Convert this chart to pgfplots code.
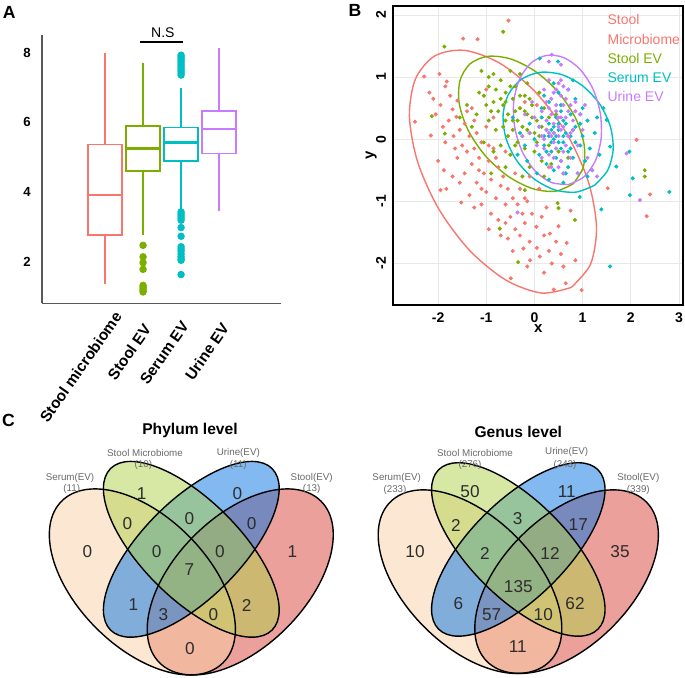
\documentclass[border=0pt]{standalone}
\usepackage{fontspec}
\setmainfont{Liberation Sans}
\usepackage{pgfplots}
\pgfplotsset{compat=1.18}
\usepgfplotslibrary{statistics}

\definecolor{cR}{HTML}{F8766D}
\definecolor{cG}{HTML}{7CAE00}
\definecolor{cC}{HTML}{00BFC4}
\definecolor{cP}{HTML}{C77CFF}
\definecolor{vP}{RGB}{249,209,165}
\definecolor{vG}{RGB}{175,209,75}
\definecolor{vB}{RGB}{5,115,225}
\definecolor{vR}{RGB}{215,65,55}
\definecolor{numc}{RGB}{45,45,45}
\definecolor{labc}{RGB}{105,105,105}

\newcommand{\fs}[1]{\fontsize{#1}{#1}\selectfont}

\begin{document}
\begin{tikzpicture}
\useasboundingbox (0,0) rectangle (342.5pt,-339pt);

% ---------------- A: boxplots
\begin{axis}[
  at={(21pt,-151.65pt)}, anchor=south west, scale only axis,
  width=119.5pt, height=134.15pt,
  xmin=-0.66, xmax=5.63, ymin=0.805, ymax=8.51,
  axis lines=left, axis line style={-, draw=black!65, line width=0.75pt},
  xtick={1,2,3,4}, xticklabels={},
  ytick={2,4,6,8},
  major tick length=0pt,
  /pgf/number format/assume math mode=true,
  y tick label style={font=\bfseries\fs{6.6}, inner sep=0pt, xshift=-5.5pt},
  clip=false,
  boxplot/draw direction=y,
  boxplot/box extend=0.9,
  boxplot/whisker extend=0,
  boxplot/every median/.style={line width=1.3pt},
]
\addplot[cR, line width=0.75pt, boxplot prepared={draw position=1,
  lower whisker=1.37, lower quartile=2.76, median=3.91,
  upper quartile=5.37, upper whisker=8.0}] coordinates {};
\addplot[cG, line width=0.75pt, boxplot prepared={draw position=2,
  lower whisker=2.78, lower quartile=4.60, median=5.25,
  upper quartile=5.90, upper whisker=7.72}] coordinates {};
\addplot[cC, line width=0.75pt, boxplot prepared={draw position=3,
  lower whisker=3.48, lower quartile=4.89, median=5.43,
  upper quartile=5.86, upper whisker=6.98}] coordinates {};
\addplot[cP, line width=0.75pt, boxplot prepared={draw position=4,
  lower whisker=3.46, lower quartile=5.11, median=5.81,
  upper quartile=6.33, upper whisker=8.13}] coordinates {};
% outliers
\addplot[cG, only marks, mark=*, mark size=1.65pt]
  coordinates {(2,2.47) (2,2.14) (2,1.97) (2,1.78) (2,1.32) (2,1.27) (2,1.22) (2,1.17) (2,1.13)};
\addplot[cC, only marks, mark=*, mark size=1.65pt]
  coordinates {(3,7.93) (3,7.88) (3,7.83) (3,7.78) (3,7.72) (3,7.66) (3,7.60) (3,7.54)
  (3,7.48) (3,7.42) (3,7.36) (3,3.43) (3,3.37) (3,3.31) (3,3.25) (3,3.19) (3,2.98)
  (3,2.73) (3,2.43) (3,2.36) (3,2.30) (3,2.22) (3,2.14) (3,2.08) (3,2.04) (3,1.63)};
% significance bar
\addplot[black, line width=0.9pt] coordinates {(1.92,8.30) (3.05,8.30)};
\node[font=\fs{7}] at (axis cs:2.52,8.57) {N.S};
\end{axis}
% category names of A
\begin{scope}[every node/.style={font=\bfseries\fs{7.7}, rotate=55, anchor=north east, inner sep=0pt}]
\node at (56.6pt,-155pt) {Stool microbiome};
\node at (71.3pt,-161.2pt) {Stool EV};
\node at (90.3pt,-159.8pt) {Serum EV};
\node at (110.3pt,-160.8pt) {Urine EV};
\end{scope}

% ---------------- B: scatter
\begin{axis}[
  at={(196.65pt,-152.5pt)}, anchor=south west, scale only axis,
  width=145pt, height=149.5pt,
  xmin=-2.93, xmax=3.09, ymin=-2.67, ymax=2.145,
  axis line style={line width=1pt, black},
  xtick={-2,-1,0,1,2,3}, ytick={-2,-1,0,1,2},
  major tick length=0pt,
  grid=major, major grid style={black!9, line width=0.3pt},
  /pgf/number format/assume math mode=true,
  tick label style={font=\bfseries\fs{7}, inner sep=0pt},
  x tick label style={yshift=-3.5pt},
  y tick label style={xshift=-3.5pt, rotate=90, anchor=south},
  xlabel={x}, ylabel={y},
  label style={font=\bfseries\fs{7.5}},
  xlabel style={at={(axis description cs:0.5,-0.08)}, anchor=center},
  ylabel style={at={(axis description cs:-0.076,0.5)}, anchor=center},
  every axis plot/.append style={only marks, mark=*, mark size=0.8pt},
]
\addplot[cR] coordinates {
(-2.29,1.01) (-2.18,0.75) (-1.97,1.05) (-1.82,0.93) (-1.85,0.85) (-2.15,0.06) (-2.48,0.28)
(-1.95,0.55) (-1.70,0.48) (-1.62,0.36) (-1.78,0.30) (-1.90,0.20) (-1.60,0.62) (-1.75,0.70)
(-2.05,0.40) (-1.55,0.15) (-1.68,0.05) (-1.85,-0.05) (-2.00,-0.35) (-1.88,-0.50) (-1.95,-0.82)
(-1.83,-0.80) (-1.70,-0.60) (-1.60,-0.30) (-1.50,-0.10) (-1.45,0.25) (-1.35,0.05) (-1.40,-0.20)
(-1.30,-0.40) (-1.25,-0.15) (-1.20,0.10) (-1.10,-0.05) (-1.15,-0.30) (-1.05,-0.55) (-1.20,-0.70)
(-1.45,-0.55) (-1.52,-1.02) (-1.35,-0.90) (-1.25,-1.10) (-1.10,-1.05) (-1.00,-0.85) (-0.90,-0.65)
(-0.95,-0.35) (-0.85,-0.15) (-0.75,-0.45) (-0.70,-0.75) (-0.80,-0.95) (-0.90,-1.20) (-0.75,-1.30)
(-0.60,-1.05) (-0.55,-0.80) (-0.45,-0.95) (-0.50,-1.25) (-0.40,-1.45) (-0.55,-1.60) (-0.45,-1.80)
(-0.30,-1.55) (-0.25,-1.20) (-0.15,-1.00) (-0.20,-1.35) (-0.10,-1.65) (-0.23,-1.76) (-0.09,-1.95)
(0.11,-1.89) (0.04,-1.41) (0.15,-1.25) (0.25,-1.10) (0.32,-1.52) (0.36,-2.00) (0.30,-1.80)
(0.50,-1.40) (0.45,-1.65) (0.67,-1.67) (0.60,-2.05) (0.40,-2.42) (0.65,-2.32) (0.98,-2.43)
(-0.49,-2.24) (0.20,-2.15) (-0.15,-2.05) (1.52,-0.79) (2.12,-0.01) (2.40,-0.89) (2.33,-1.24)
(-0.54,1.91) (-1.48,1.62) (-1.18,1.61) (-0.60,-0.20) (-0.40,-0.55) (-0.30,-0.80) (-0.10,-0.60)
(0.10,-0.80) (0.05,0.55) (-0.20,0.60) (0.30,-0.45) (0.75,-1.15) (0.85,-1.95) (-1.00,0.80)
(-0.85,0.35) (-1.30,0.50) (-1.65,-0.15) (-1.40,0.45) (-1.15,-0.50) (-0.95,-0.10) (-0.65,-0.60)
(-0.35,-1.05) (-0.05,-1.20) (0.20,-1.55) (-0.70,-1.55) (-0.95,-1.45) (-1.10,-0.80) (-1.55,-0.70)
(-2.10,0.65) (-1.25,0.30) (-0.60,-1.35) (0.05,-1.75) (0.55,-1.85) (-0.20,-0.95) (-0.80,-0.30)
(-1.00,0.20)};
\addplot[cG] coordinates {
(-1.10,1.10) (-0.95,1.00) (-1.15,0.75) (-1.05,0.70) (-0.95,0.85) (-0.80,0.80) (-0.70,0.95)
(-0.60,0.75) (-0.85,0.60) (-0.75,0.45) (-0.65,0.55) (-0.55,0.40) (-0.45,0.65) (-0.40,0.85)
(-0.30,0.50) (-0.20,0.70) (-0.35,0.30) (-0.25,0.20) (-0.15,0.40) (-0.05,0.55) (0.05,0.30)
(-0.10,0.10) (0.10,0.05) (-0.45,0.15) (-0.55,0.05) (-0.65,0.20) (-0.80,0.15) (-0.95,0.30)
(-1.20,0.40) (-1.30,0.20) (-1.05,-0.05) (-0.85,-0.20) (-0.70,-0.10) (-0.50,-0.25) (-0.35,-0.05)
(-0.20,-0.15) (0.00,-0.20) (0.15,-0.35) (0.30,-0.10) (0.25,0.15) (0.40,0.10) (0.50,-0.20)
(0.35,-0.40) (0.60,-0.55) (0.20,-0.60) (-0.10,-0.45) (-0.60,-0.45) (-1.40,0.55) (-1.55,0.35)
(-0.30,1.05) (-0.15,0.90) (0.10,0.75) (0.20,0.50) (-0.50,1.10) (0.45,0.40) (0.70,-0.30)
(-0.90,-0.55) (-0.25,-0.60) (-1.87,1.49) (-0.65,1.73) (-2.13,0.37) (-1.86,0.09) (2.29,-0.50)
(2.29,-0.60) (0.48,-1.03) (0.50,-1.11) (0.84,-1.30) (-0.72,-1.44) (-0.34,-1.98) (-0.20,-0.82)
(-0.60,0.30) (-0.40,0.45) (-0.30,0.70) (-0.50,0.85) (-0.85,1.05) (-0.70,0.65) (-0.15,0.15)
(-0.05,0.35) (0.00,0.10) (-0.25,0.05) (-0.40,-0.10) (0.15,0.20) (0.30,0.35) (-0.90,0.45)
(-1.00,0.55) (-0.20,0.45) (-0.45,0.30) (-0.60,0.60) (-0.10,0.65) (0.05,-0.05)};
\addplot[cC] coordinates {
(0.10,0.20) (0.20,0.05) (0.30,0.25) (0.40,0.00) (0.50,0.15) (0.60,-0.05) (0.35,-0.20)
(0.45,0.35) (0.55,0.45) (0.65,0.25) (0.75,0.05) (0.85,0.20) (0.95,-0.10) (0.80,-0.30)
(0.70,-0.45) (0.55,-0.35) (0.40,-0.50) (0.25,-0.40) (0.10,-0.25) (0.00,0.00) (-0.10,0.25)
(-0.20,-0.10) (-0.30,0.10) (-0.15,-0.35) (0.05,-0.55) (0.30,-0.65) (0.60,-0.70) (0.90,-0.55)
(1.05,-0.35) (1.15,-0.15) (1.25,0.10) (1.10,0.30) (1.00,0.50) (0.85,0.65) (0.70,0.80)
(0.50,0.75) (0.30,0.60) (0.15,0.50) (0.40,0.90) (1.20,-0.50) (1.35,-0.25) (1.30,0.35)
(0.20,-0.10) (0.45,0.05) (0.65,0.10) (0.35,0.15) (0.55,-0.15) (0.75,-0.15) (-0.35,-0.25)
(0.95,0.40) (-0.45,0.35) (0.80,0.95) (1.97,-0.20) (2.04,-0.63) (1.98,-0.90) (2.80,-0.85)
(1.57,-2.05) (1.39,-1.13) (0.94,-0.93) (0.11,1.30) (0.49,1.25) (1.43,0.50) (1.50,0.31)
(1.57,-0.12) (1.70,-0.44) (0.40,0.20) (0.50,-0.05) (0.60,0.30) (0.30,0.05) (0.70,-0.20)
(0.45,-0.30) (0.85,-0.05) (0.25,-0.20) (0.55,0.55) (0.75,0.40) (1.00,0.05) (0.15,0.35)
(0.65,-0.55) (0.95,0.25) (0.35,-0.05) (0.80,0.15) (0.50,0.25) (0.60,0.05) (1.10,-0.60)
(0.20,0.70)};
\addplot[cP] coordinates {
(0.30,0.10) (0.40,0.25) (0.50,0.05) (0.60,0.20) (0.35,0.40) (0.45,0.55) (0.55,0.70)
(0.50,0.90) (0.60,0.85) (0.40,0.75) (0.70,0.45) (0.80,0.30) (0.75,0.10) (0.65,-0.10)
(0.45,-0.15) (0.30,-0.25) (0.20,0.00) (0.10,0.20) (0.00,0.35) (0.15,0.45) (0.25,0.60)
(-0.10,0.10) (0.05,-0.10) (0.15,-0.30) (0.35,-0.45) (0.55,-0.35) (0.75,-0.30) (0.90,-0.10)
(1.00,0.15) (0.95,0.40) (0.85,0.60) (0.70,0.80) (0.30,0.95) (0.20,0.80) (-0.05,0.60)
(-0.20,0.40) (1.10,-0.30) (1.20,-0.50) (0.90,-0.55) (0.60,-0.55) (0.25,0.30) (0.50,0.35)
(0.40,-0.05) (0.65,0.35) (0.55,0.15) (0.35,0.05) (1.05,0.55) (-0.25,0.05) (0.30,1.25)
(0.55,1.20) (0.36,1.36) (1.91,-0.23) (2.19,-0.98) (1.30,-0.60) (-0.35,-1.18)
(0.40,0.10) (0.50,0.20) (0.45,0.45) (0.60,0.55) (0.55,0.95) (0.35,0.65) (0.65,0.65)
(0.25,0.15) (0.70,0.05) (0.60,-0.20) (0.40,-0.30) (0.80,0.15) (0.30,0.50) (0.50,-0.45)
(0.15,0.05) (0.45,0.80) (0.85,0.45) (0.20,-0.15) (0.75,0.55) (0.55,0.35)};
% 95% ellipses
\addplot[cR, line width=0.7pt, no marks, sharp plot, smooth] coordinates {
(0.766,-2.386) (1.165,-2.012) (1.288,-1.410) (1.115,-0.674) (0.673,0.086) (0.029,0.752)
(-0.719,1.224) (-1.457,1.431) (-2.073,1.339) (-2.473,0.965) (-2.595,0.363) (-2.422,-0.373)
(-1.980,-1.132) (-1.336,-1.799) (-0.588,-2.271) (0.150,-2.478) (0.766,-2.386)};
\addplot[cG, line width=0.7pt, no marks, sharp plot, smooth] coordinates {
(0.805,-0.718) (1.014,-0.450) (1.029,-0.076) (0.847,0.348) (0.496,0.756) (0.028,1.087)
(-0.484,1.290) (-0.963,1.335) (-1.336,1.214) (-1.545,0.946) (-1.561,0.572) (-1.379,0.148)
(-1.027,-0.260) (-0.559,-0.591) (-0.047,-0.794) (0.432,-0.839) (0.805,-0.718)};
\addplot[cC, line width=0.7pt, no marks, sharp plot, smooth] coordinates {
(1.250,-0.741) (1.521,-0.500) (1.634,-0.166) (1.574,0.210) (1.349,0.572) (0.993,0.863)
(0.561,1.041) (0.119,1.077) (-0.267,0.966) (-0.537,0.726) (-0.651,0.392) (-0.591,0.015)
(-0.366,-0.346) (-0.010,-0.638) (0.422,-0.816) (0.865,-0.852) (1.250,-0.741)};
\addplot[cP, line width=0.7pt, no marks, sharp plot, smooth] coordinates {
(0.706,-0.730) (1.028,-0.606) (1.267,-0.343) (1.385,0.020) (1.365,0.427) (1.210,0.816)
(0.943,1.128) (0.605,1.315) (0.248,1.349) (-0.074,1.225) (-0.312,0.961) (-0.430,0.598)
(-0.410,0.192) (-0.255,-0.197) (0.012,-0.509) (0.349,-0.696) (0.706,-0.730)};
\end{axis}

% legend of B
\begin{scope}[every node/.style={anchor=west, inner sep=0pt, font=\fs{7}}]
\node[text=cR] at (303.6pt,-10pt) {Stool};
\node[text=cR] at (303.6pt,-19.65pt) {Microbiome};
\node[text=cG] at (303.6pt,-29.15pt) {Stool EV};
\node[text=cC] at (303.6pt,-38.85pt) {Serum EV};
\node[text=cP] at (303.6pt,-48.35pt) {Urine EV};
\end{scope}

% panel letters
\node[font=\bfseries\fs{8.8}] at (4.6pt,-6pt) {A};
\node[font=\bfseries\fs{8.8}] at (177.5pt,-5pt) {B};
\node[font=\bfseries\fs{8.8}] at (4.2pt,-210pt) {C};

% ---------------- C: Venn diagrams
\begin{scope}[shift={(14.075pt,-367.65pt)}, x=163.15pt, y=163.15pt]
  \fill[vR, fill opacity=0.5, rotate around={45:(0.65,0.47)}] (0.65,0.47) ellipse [x radius=0.35, y radius=0.2];
  \fill[vP, fill opacity=0.5, rotate around={-45:(0.35,0.47)}] (0.35,0.47) ellipse [x radius=0.35, y radius=0.2];
  \fill[vB, fill opacity=0.5, rotate around={45:(0.5,0.57)}] (0.5,0.57) ellipse [x radius=0.35, y radius=0.15];
  \fill[vG, fill opacity=0.5, rotate around={-45:(0.5,0.57)}] (0.5,0.57) ellipse [x radius=0.35, y radius=0.15];
  \begin{scope}[line width=0.7pt, black]
  \draw[rotate around={45:(0.65,0.47)}] (0.65,0.47) ellipse [x radius=0.35, y radius=0.2];
  \draw[rotate around={-45:(0.35,0.47)}] (0.35,0.47) ellipse [x radius=0.35, y radius=0.2];
  \draw[rotate around={45:(0.5,0.57)}] (0.5,0.57) ellipse [x radius=0.35, y radius=0.15];
  \draw[rotate around={-45:(0.5,0.57)}] (0.5,0.57) ellipse [x radius=0.35, y radius=0.15];
  \end{scope}
\end{scope}
\begin{scope}[shift={(178.65pt,-366.5pt)}, x=161pt, y=161pt]
  \fill[vR, fill opacity=0.5, rotate around={45:(0.65,0.47)}] (0.65,0.47) ellipse [x radius=0.35, y radius=0.2];
  \fill[vP, fill opacity=0.5, rotate around={-45:(0.35,0.47)}] (0.35,0.47) ellipse [x radius=0.35, y radius=0.2];
  \fill[vB, fill opacity=0.5, rotate around={45:(0.5,0.57)}] (0.5,0.57) ellipse [x radius=0.35, y radius=0.15];
  \fill[vG, fill opacity=0.5, rotate around={-45:(0.5,0.57)}] (0.5,0.57) ellipse [x radius=0.35, y radius=0.15];
  \begin{scope}[line width=0.7pt, black]
  \draw[rotate around={45:(0.65,0.47)}] (0.65,0.47) ellipse [x radius=0.35, y radius=0.2];
  \draw[rotate around={-45:(0.35,0.47)}] (0.35,0.47) ellipse [x radius=0.35, y radius=0.2];
  \draw[rotate around={45:(0.5,0.57)}] (0.5,0.57) ellipse [x radius=0.35, y radius=0.15];
  \draw[rotate around={-45:(0.5,0.57)}] (0.5,0.57) ellipse [x radius=0.35, y radius=0.15];
  \end{scope}
\end{scope}

% Venn titles and set names
\node[font=\bfseries\fs{7.8}] at (95pt,-215pt) {Phylum level};
\node[font=\bfseries\fs{7.8}] at (259.15pt,-215.85pt) {Genus level};
\begin{scope}[every node/.style={font=\fs{4.9}, text=labc, inner sep=0pt}]
\node at (35pt,-239pt) {Serum(EV)};      \node at (35.85pt,-244.5pt) {(11)};
\node at (72.5pt,-226.65pt) {Stool Microbiome}; \node at (71.65pt,-232.5pt) {(10)};
\node at (119.15pt,-226.65pt) {Urine(EV)}; \node at (119.15pt,-232.5pt) {(11)};
\node at (155.85pt,-239pt) {Stool(EV)};    \node at (155.85pt,-244.5pt) {(13)};
\node at (198.35pt,-239.15pt) {Serum(EV)}; \node at (197.5pt,-245pt) {(233)};
\node at (237.5pt,-226.65pt) {Stool Microbiome}; \node at (235pt,-232.5pt) {(276)};
\node at (283.35pt,-225.85pt) {Urine(EV)}; \node at (282.5pt,-232.5pt) {(243)};
\node at (319.15pt,-239.15pt) {Stool(EV)}; \node at (319.15pt,-245pt) {(339)};
\end{scope}

% Venn counts
\begin{scope}[every node/.style={font=\fs{8.6}, text=numc, inner sep=0pt}]
\node at (70.85pt,-246.65pt) {1};
\node at (118.65pt,-246.65pt) {0};
\node at (43.65pt,-275.85pt) {0};
\node at (146.15pt,-275.85pt) {1};
\node at (63.65pt,-261.65pt) {0};
\node at (94.65pt,-259.15pt) {0};
\node at (125.85pt,-261.65pt) {0};
\node at (78.35pt,-275.85pt) {0};
\node at (110pt,-275.85pt) {0};
\node at (94.65pt,-285pt) {7};
\node at (66.65pt,-302.5pt) {1};
\node at (123.35pt,-302.5pt) {2};
\node at (81.65pt,-307.5pt) {3};
\node at (106.65pt,-307.5pt) {0};
\node at (95pt,-324.15pt) {0};
\node at (235pt,-245.85pt) {50};
\node at (283.35pt,-245.85pt) {11};
\node at (207.5pt,-275.85pt) {10};
\node at (310pt,-275.85pt) {35};
\node at (228pt,-262.5pt) {2};
\node at (258.85pt,-259.15pt) {3};
\node at (289.15pt,-262.5pt) {17};
\node at (242.5pt,-276.65pt) {2};
\node at (275pt,-276.65pt) {12};
\node at (259.15pt,-293.35pt) {135};
\node at (229.15pt,-301.65pt) {6};
\node at (287.5pt,-301.65pt) {62};
\node at (245.85pt,-307.5pt) {57};
\node at (271.65pt,-307.5pt) {10};
\node at (258.85pt,-323.35pt) {11};
\end{scope}
\end{tikzpicture}
\end{document}
